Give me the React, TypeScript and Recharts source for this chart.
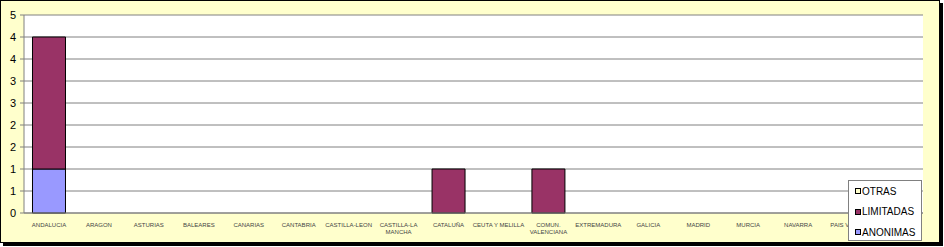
import { BarChart, Bar, XAxis, YAxis, CartesianGrid } from "recharts";

const regions = [
  "ANDALUCIA", "ARAGON", "ASTURIAS", "BALEARES", "CANARIAS", "CANTABRIA",
  "CASTILLA-LEON", "CASTILLA-LA\nMANCHA", "CATALUÑA", "CEUTA Y MELILLA",
  "COMUN.\nVALENCIANA", "EXTREMADURA", "GALICIA", "MADRID", "MURCIA",
  "NAVARRA", "PAIS VASCO", "LA RIOJA",
];
const anonimas = [1, 0, 0, 0, 0, 0, 0, 0, 0, 0, 0, 0, 0, 0, 0, 0, 0, 0];
const limitadas = [3, 0, 0, 0, 0, 0, 0, 0, 1, 0, 1, 0, 0, 0, 0, 0, 0, 0];
const otras = [0, 0, 0, 0, 0, 0, 0, 0, 0, 0, 0, 0, 0, 0, 0, 0, 0, 0];
const yTicks = [0, 0.5, 1, 1.5, 2, 2.5, 3, 3.5, 4, 4.5];

const series = [
  { key: "otras", name: "OTRAS", color: "#FFFFCC" },
  { key: "limitadas", name: "LIMITADAS", color: "#993366" },
  { key: "anonimas", name: "ANONIMAS", color: "#9999FF" },
];

const data = regions.map((r, i) => ({
  region: r,
  anonimas: anonimas[i],
  limitadas: limitadas[i],
  otras: otras[i],
}));

function RegionTick({ x, y, payload }: any) {
  const lines = String(payload.value).split("\n");
  return (
    <text x={x} y={y} textAnchor="middle" fontSize={6} fill="#444" fontFamily="Liberation Sans, Arial">
      {lines.map((l, i) => (
        <tspan key={i} x={x} dy={i === 0 ? 6 : 7}>{l}</tspan>
      ))}
    </text>
  );
}

function LegendBox() {
  return (
    <div style={{
      position: "absolute", left: 847, top: 179, width: 74, height: 61, background: "#fff",
      border: "1px solid #808080", fontFamily: "Liberation Sans, Arial", fontSize: 10, color: "#000",
      boxSizing: "border-box", padding: "0 0 0 6px",
    }}>
      {series.map((s) => (
        <div key={s.key} style={{ display: "flex", alignItems: "center", height: 20.5 }}>
          <span style={{ width: 4, height: 4, background: s.color, border: "1px solid #000", marginRight: 1 }} />
          <span>{s.name}</span>
        </div>
      ))}
    </div>
  );
}

export default function App() {
  return (
    <div style={{
      position: "absolute", left: 0, top: 0, width: 938, height: 241,
      background: "#FFFFCC", border: "1px solid #000", boxShadow: "3px 3px 0 #000",
    }}>
      <BarChart width={938} height={241} data={data} barCategoryGap="17%"
        margin={{ top: 14, right: 16, left: 3, bottom: 0 }}>
        <CartesianGrid vertical={false} stroke="#808080" fill="#fff" />
        <XAxis dataKey="region" interval={0} height={29} tickLine={false}
          axisLine={{ stroke: "#808080" }} tick={<RegionTick />} />
        <YAxis width={20} domain={[0, 4.5]} ticks={yTicks} interval={0}
          tickSize={4} tickMargin={4} axisLine={{ stroke: "#808080" }} tickLine={{ stroke: "#808080" }}
          tick={{ fontSize: 11, fill: "#000", fontFamily: "Liberation Sans, Arial" }}
          tickFormatter={(v: number) => String(Math.round(v))} />
        <Bar dataKey="anonimas" name="ANONIMAS" stackId="a" fill="#9999FF" stroke="#000" isAnimationActive={false} />
        <Bar dataKey="limitadas" name="LIMITADAS" stackId="a" fill="#993366" stroke="#000" isAnimationActive={false} />
        <Bar dataKey="otras" name="OTRAS" stackId="a" fill="#FFFFCC" stroke="#000" isAnimationActive={false} />
      </BarChart>
      <LegendBox />
    </div>
  );
}
